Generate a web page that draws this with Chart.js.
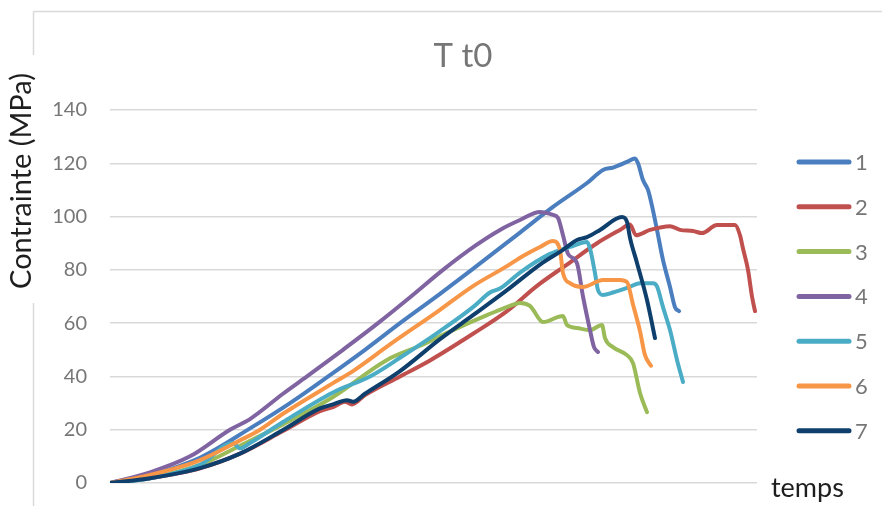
<!DOCTYPE html>
<html>
<head>
<meta charset="utf-8">
<script src="https://cdn.jsdelivr.net/npm/chart.js@4.4.1/dist/chart.umd.min.js"></script>
<style>
  html, body { margin: 0; padding: 0; background: #fff; }
  #wrap { width: 882px; height: 506px; position: relative; }
</style>
</head>
<body>
<div id="wrap"><canvas id="chart"></canvas></div>
<script>
// temps (arbitrary units, 0..647) and contrainte (MPa) for each test
const temps1 = [0, 40, 90, 140, 180, 220, 255, 290, 330, 360, 410, 443, 477, 493, 503, 517, 525, 528, 533, 538, 542, 547, 553, 560, 565, 569];
const contrainte1 = [0, 3, 9.5, 20.5, 30, 40.5, 50, 60, 71, 79.5, 94, 103.6, 112.6, 117.5, 118.4, 120.5, 121.8, 120, 113.7, 110, 104, 95, 83.7, 73.6, 66, 64.5];

const temps2 = [0, 40, 90, 130, 173, 210, 223, 235, 242, 255, 290, 320, 363, 397, 427, 457, 487, 510, 520, 526, 540, 560, 570, 583, 592, 607, 625, 630, 633, 638, 642, 645];
const contrainte2 = [0, 1.8, 5.5, 11, 19.5, 27, 28.5, 30.5, 29.5, 33, 40, 46, 56, 64.5, 74, 82, 90, 95, 97, 93, 95, 96.4, 95, 94.6, 93.8, 96.8, 96.8, 93, 88, 80, 70, 64.5];

const temps3 = [0, 40, 90, 130, 173, 223, 277, 310, 343, 377, 400, 410, 420, 433, 453, 457, 467, 480, 492, 495, 503, 517, 523, 530, 537];
const contrainte3 = [0, 2, 6.8, 14, 22, 32.3, 46.2, 51.5, 57.4, 63, 66.5, 67.6, 66.5, 60.4, 62.7, 59.3, 58.2, 57.4, 59.3, 54.4, 51, 48, 45, 33.8, 26.6];

const temps4 = [0, 40, 80, 120, 140, 173, 197, 233, 268, 301, 333, 365, 390, 410, 430, 443, 448, 453, 458, 467, 473, 480, 484, 488];
const contrainte4 = [0, 4, 10, 20, 24, 33.5, 40, 50, 60, 70, 80, 89, 95, 98.7, 101.7, 100.6, 99.5, 93, 86, 82.5, 70, 57.4, 51, 49.2];

const temps5 = [0, 40, 90, 123, 130, 140, 173, 223, 260, 290, 330, 363, 380, 390, 410, 440, 460, 477, 480, 485, 488, 493, 503, 517, 530, 543, 547, 553, 560, 567, 573];
const contrainte5 = [0, 1.8, 6.8, 15, 13, 15, 22.9, 34, 40, 47, 57, 66, 71.5, 73, 79, 86, 88.6, 90.5, 88, 78.8, 72.4, 70.6, 71.5, 73.2, 75, 75, 73.8, 66, 57.4, 46.2, 37.9];

const temps6 = [0, 40, 90, 130, 150, 173, 223, 243, 280, 330, 363, 397, 413, 430, 443, 450, 453, 460, 473, 493, 510, 517, 523, 530, 535, 541];
const contrainte6 = [0, 3, 8.6, 16, 20, 26, 37.5, 42, 52, 65, 73.9, 81.4, 85.2, 88.6, 90.8, 87.5, 78.8, 75, 73.6, 76.2, 76.2, 75.4, 67, 57, 48, 44];

const temps7 = [0, 40, 90, 130, 173, 210, 223, 237, 243, 255, 290, 330, 363, 397, 430, 453, 467, 477, 490, 512, 517, 520, 527, 537, 545];
const contrainte7 = [0, 1.8, 5.6, 11, 19.9, 28, 29.5, 31.1, 30.5, 33.5, 42, 54, 63, 72.4, 82, 87.5, 91.2, 92.3, 95, 99.8, 98, 92, 82.6, 68.7, 54.4];

const seriesLabels = ["1", "2", "3", "4", "5", "6", "7"];
const yTicks = [0, 20, 40, 60, 80, 100, 120, 140];

const allTemps = [temps1, temps2, temps3, temps4, temps5, temps6, temps7];
const allContrainte = [contrainte1, contrainte2, contrainte3, contrainte4, contrainte5, contrainte6, contrainte7];
const colors = ["#4A7EBF", "#C0504D", "#9BBB59", "#8064A2", "#4BACC6", "#F79646", "#0F3F6C"];

const FONT = "Lato, 'Open Sans', sans-serif";
const GREY = "#767676";

// join x and y arrays into points
function toPoints(xs, ys) {
  return xs.map((x, i) => ({ x: x, y: ys[i] }));
}

const datasets = seriesLabels.map((label, i) => ({
  label: label,
  data: toPoints(allTemps[i], allContrainte[i]),
  borderColor: colors[i],
  backgroundColor: colors[i],
  borderWidth: 4,
  pointRadius: 0,
  cubicInterpolationMode: "monotone",
  borderCapStyle: "round",
  borderJoinStyle: "round",
  fill: false,
  order: seriesLabels.length - i,
}));

// texts, frame and legend, drawn around the plot
const decorations = {
  id: "decorations",
  beforeDraw(chart) {
    const ctx = chart.ctx;
    ctx.save();
    ctx.strokeStyle = "#d9d9d9";
    ctx.lineWidth = 1.5;
    ctx.beginPath();
    ctx.moveTo(33.5, 11.5);
    ctx.lineTo(882, 11.5);
    ctx.moveTo(33.5, 11.5);
    ctx.lineTo(33.5, 55);
    ctx.moveTo(33.5, 303);
    ctx.lineTo(33.5, 506);
    ctx.stroke();
    ctx.restore();
  },
  afterDraw(chart) {
    const ctx = chart.ctx;
    ctx.save();

    ctx.fillStyle = GREY;
    ctx.font = "33px " + FONT;
    ctx.textAlign = "center";
    ctx.textBaseline = "alphabetic";
    ctx.fillText("T t0", 463, 67);

    ctx.fillStyle = "#1e1e1e";
    ctx.font = "27px " + FONT;
    ctx.textAlign = "left";
    ctx.fillText("temps", 771, 497);

    ctx.save();
    ctx.font = "29px " + FONT;
    ctx.translate(22, 181);
    ctx.rotate(-Math.PI / 2);
    ctx.textAlign = "center";
    ctx.textBaseline = "middle";
    ctx.fillText("Contrainte (MPa)", 0, 0);
    ctx.restore();

    // legend
    ctx.font = "22px " + FONT;
    ctx.textBaseline = "middle";
    ctx.textAlign = "left";
    ctx.lineCap = "round";
    ctx.lineWidth = 5;
    chart.data.datasets.forEach((ds, i) => {
      const y = 162 + i * 44.8;
      ctx.strokeStyle = ds.borderColor;
      ctx.beginPath();
      ctx.moveTo(799, y);
      ctx.lineTo(849, y);
      ctx.stroke();
      ctx.fillStyle = GREY;
      ctx.fillText(ds.label, 855, y + 1);
    });
    ctx.restore();
  },
};

new Chart(document.getElementById("chart"), {
  type: "line",
  data: { datasets: datasets },
  options: {
    responsive: true,
    maintainAspectRatio: false,
    animation: false,
    layout: { padding: { left: 0, top: 110, right: 125, bottom: 23 } },
    plugins: {
      legend: { display: false },
      title: { display: false },
      tooltip: { enabled: false },
    },
    scales: {
      x: {
        type: "linear",
        min: 0,
        max: 647,
        display: false,
      },
      y: {
        min: yTicks[0],
        max: yTicks[yTicks.length - 1],
        afterFit(scale) {
          scale.width = 110;
          scale.paddingTop = 0;
          scale.paddingBottom = 0;
        },
        afterBuildTicks(scale) {
          scale.ticks = yTicks.map((v) => ({ value: v }));
        },
        ticks: {
          color: GREY,
          font: { family: FONT, size: 20 },
          padding: 23,
        },
        grid: {
          color: "#d9d9d9",
          lineWidth: 1.5,
          drawTicks: false,
        },
        border: { display: false },
      },
    },
  },
  plugins: [decorations],
});
</script>
</body>
</html>
